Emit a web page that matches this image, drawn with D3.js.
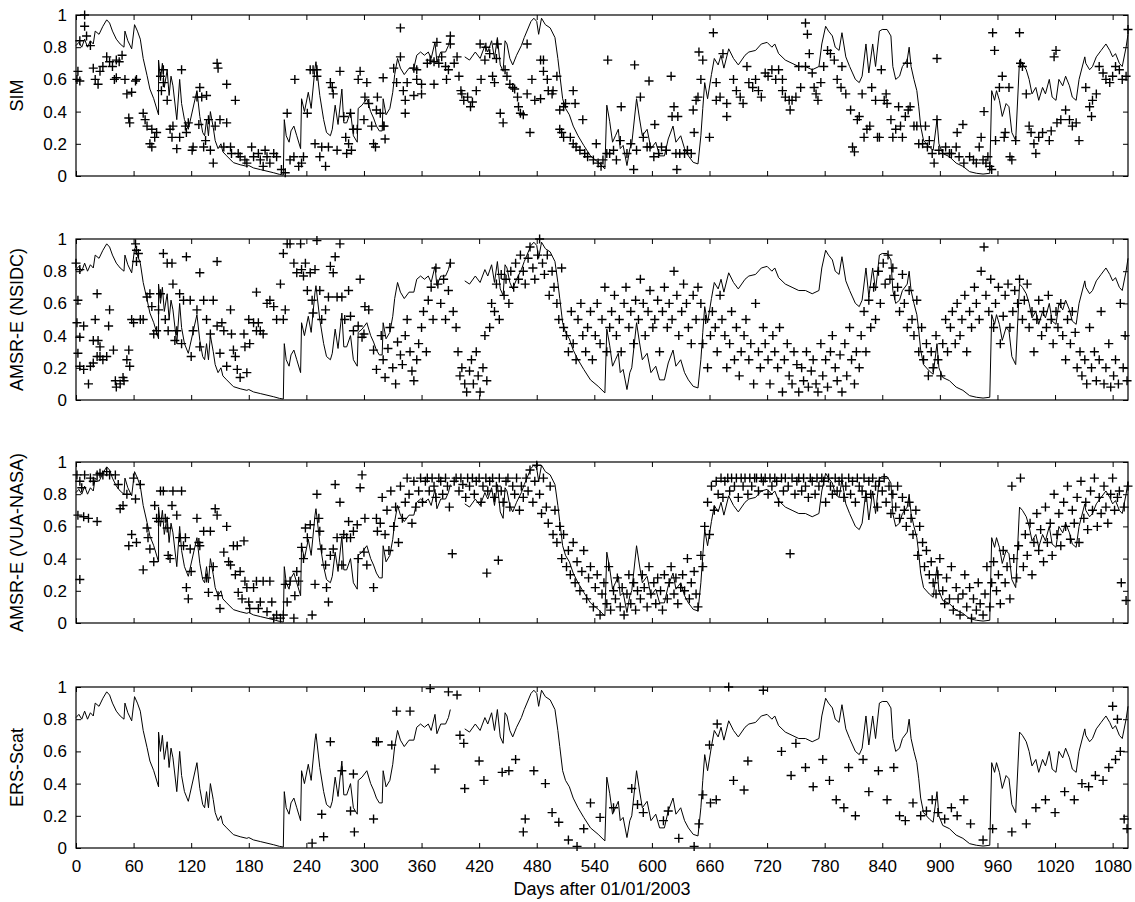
<!DOCTYPE html>
<html>
<head>
<meta charset="utf-8">
<title>Soil moisture 2003-2005</title>
<script src="https://cdn.jsdelivr.net/npm/d3@7"></script>
<style>
  body { margin: 0; background: #fff; }
  text { font-family: "Liberation Sans", Arial, sans-serif; fill: #000; }
</style>
</head>
<body>
<svg width="1135" height="902" id="mainsvg"></svg>
<script>
// in-situ reference curve (day, value), null = gap
const insitu = [[0,.81],[3,.83],[6,.80],[9,.85],[12,.80],[15,.84],[18,.82],[20,.90],[24,.88],[28,.93],[32,.97],[35,.95],[38,.90],[42,.85],[46,.82],[50,.80],[51,.90],[54,.84],[58,.79],[61,.94],[64,.90],[67,.85],[70,.73],[74,.625],[77,.54],[81,.48],[86,.38],[86,.72],[88,.60],[90,.70],[92,.55],[95,.66],[97,.50],[99,.62],[101,.56],[105,.35],[108,.60],[110,.45],[113,.35],[117,.29],[126,.53],[129,.37],[132,.27],[134,.25],[136,.35],[138,.25],[140,.40],[143,.30],[145,.22],[148,.17],[151,.20],[153,.15],[157,.125],[164,.083],[171,.07],[178,.06],[180,.065],[185,.05],[192,.04],[199,.03],[206,.02],[212,.01],[216,.006],[217,.35],[219,.25],[222,.21],[224,.28],[227,.31],[230,.25],[234,.17],[235,.48],[238,.40],[242,.52],[245,.42],[249,.67],[250,.71],[254,.50],[258,.35],[261,.27],[265,.25],[267,.29],[270,.44],[273,.32],[277,.54],[279,.33],[282,.33],[286,.40],[289,.25],[293,.21],[294,.42],[298,.44],[303,.48],[307,.40],[310,.36],[313,.31],[316,.28],[319,.28],[320,.48],[323,.38],[327,.42],[330,.52],[332,.63],[335,.73],[338,.67],[342,.63],[347,.67],[352,.67],[355,.75],[359,.77],[363,.75],[367,.77],[370,.73],[374,.83],[376,.71],[380,.77],[385,.77],[388,.81],[390,.86],[392,null],[405,.74],[410,.72],[416,.77],[421,.73],[426,.81],[429,.77],[433,.84],[436,.73],[439,.86],[442,.69],[445,.65],[447,.84],[449,.82],[452,.73],[455,.69],[459,.75],[464,.81],[467,.86],[474,.96],[477,.98],[480,.96],[482,.88],[485,.98],[489,.94],[494,.92],[499,.86],[502,.73],[504,.63],[507,.48],[510,.42],[514,.38],[518,.31],[523,.25],[529,.19],[536,.125],[544,.085],[551,.044],[553,.44],[556,.34],[559,.21],[562,.25],[565,.29],[567,.17],[570,.19],[574,.065],[577,.17],[579,.2],[584,.48],[587,.36],[590,.25],[595,.29],[599,.17],[604,.21],[608,.125],[613,.125],[617,.23],[622,.31],[625,.21],[630,.25],[634,.17],[638,.125],[643,.085],[648,.075],[651,.25],[653,.42],[655,.58],[658,.48],[662,.63],[665,.73],[669,.69],[672,.75],[675,.67],[680,.79],[685,.73],[690,.69],[697,.75],[701,.77],[708,.78],[714,.82],[720,.83],[725,.80],[728,.82],[732,.76],[739,.72],[746,.70],[753,.68],[760,.68],[767,.66],[774,.68],[777,.82],[781,.93],[784,.90],[788,.87],[791,.80],[795,.78],[798,.89],[802,.74],[806,.68],[809,.64],[812,.60],[816,.58],[819,.62],[823,.82],[826,.64],[830,.82],[833,.68],[837,.90],[840,.91],[845,.91],[849,.87],[851,.68],[854,.60],[858,.62],[861,.68],[866,.72],[868,.80],[870,.68],[873,.60],[876,.53],[878,.43],[880,.31],[883,.22],[889,.18],[893,.16],[897,.35],[899,.20],[903,.14],[910,.12],[917,.08],[924,.06],[931,.027],[938,.017],[945,.012],[952,.017],[954,.53],[957,.47],[959,.53],[962,.47],[965,.37],[969,.45],[972,.43],[975,.27],[979,.22],[983,.72],[986,.70],[990,.66],[993,.60],[996,.51],[1000,.55],[1003,.47],[1007,.55],[1010,.51],[1014,.60],[1017,.49],[1021,.47],[1024,.60],[1028,.56],[1031,.62],[1035,.56],[1038,.49],[1042,.47],[1045,.60],[1051,.74],[1052,.70],[1056,.66],[1059,.68],[1063,.74],[1068,.78],[1073,.82],[1077,.78],[1080,.74],[1083,.76],[1087,.70],[1090,.68],[1094,.80],[1096,.88]];

// SIM retrievals
const simObs = [[1,.6],[2,.65],[4,.84],[4,.59],[9,1.0],[9,.93],[11,.87],[15,.81],[18,.67],[20,.6],[23,.57],[25,.65],[28,.68],[32,.74],[35,.71],[38,.68],[40,.6],[42,.72],[42,.61],[45,.71],[48,.75],[51,.6],[53,.51],[55,.36],[56,.33],[58,.52],[62,.59],[63,.6],[70,.39],[72,.35],[74,.31],[77,.2],[79,.29],[79,.18],[82,.24],[84,.27],[88,.62],[89,.53],[91,.66],[91,.58],[95,.47],[98,.29],[100,.24],[101,.31],[105,.17],[108,.24],[110,.66],[114,.31],[115,.27],[117,.33],[121,.16],[122,.18],[126,.49],[128,.32],[129,.55],[131,.49],[133,.18],[135,.22],[136,.5],[138,.35],[140,.16],[143,.08],[145,.31],[147,.7],[148,.67],[150,.35],[154,.18],[157,.33],[157,.57],[161,.18],[162,.14],[166,.47],[169,.14],[171,.12],[176,.1],[178,.08],[183,.18],[185,.12],[190,.14],[192,.1],[195,.06],[197,.16],[199,.12],[202,.08],[206,.14],[209,.12],[214,.04],[218,.02],[220,.39],[223,.1],[227,.12],[228,.6],[232,.06],[235,.08],[237,.12],[241,.39],[244,.66],[247,.66],[249,.2],[251,.66],[251,.62],[254,.12],[256,.18],[260,.06],[263,.18],[265,.58],[267,.55],[268,.51],[272,.16],[275,.65],[279,.37],[281,.24],[282,.14],[284,.2],[286,.39],[287,.16],[289,.29],[293,.29],[294,.6],[296,.65],[300,.35],[301,.49],[303,.58],[305,.45],[308,.31],[310,.2],[312,.18],[313,.41],[314,.49],
[317,.39],[320,.31],[322,.23],[321,.31],[320,.61],[331,.67],[334,.58],[338,.74],[338,.92],[341,.53],[343,.47],[343,.39],[345,.58],[352,.5],[352,.67],[355,.66],[355,.6],[360,.57],[360,.51],[366,.7],[369,.72],[373,.71],[373,.57],[376,.83],[378,.7],[381,.74],[385,.68],[386,.6],[388,.66],[390,.82],[390,.87],[394,.7],[397,.74],[399,.62],[401,.53],[402,.51],[404,.47],[408,.49],[411,.43],[413,.46],[417,.53],[421,.82],[422,.6],[426,.72],[427,.8],[431,.76],[434,.62],[436,.58],[438,.73],[439,.82],[442,.39],[445,.33],[447,.66],[449,.62],[452,.57],[455,.55],[457,.54],[460,.49],[461,.43],[463,.39],[466,.38],[470,.82],[470,.51],[473,.27],[475,.6],[478,.47],[484,.48],[484,.72],[487,.72],[487,.65],[491,.6],[492,.53],[496,.51],[497,.53],[501,.62],[504,.41],[508,.43],[510,.45],[504,.29],[506,.27],[508,.24],[515,.24],[518,.2],[518,.53],[520,.45],[521,.18],[525,.16],[528,.35],[530,.14],[533,.12],[539,.1],[542,.2],[544,.08],[547,.06],[549,.1],[553,.14],[554,.72],[556,.14],[560,.16],[563,.1],[567,.22],[568,.43],[574,.14],[578,.2],[581,.04],[582,.69],[584,.16],[588,.49],[591,.24],[595,.18],[597,.59],[598,.18],[602,.12],[603,.32],[607,.14],[610,.18],[615,.16],[620,.62],[621,.37],[623,.43],[625,.14],[626,.04],[627,.37],[629,.14],[634,.14],[637,.16],[641,.14],[643,.41],[644,.27],[646,.47],[648,.49],[649,.77],[653,.72],[651,.6],[660,.24],[664,.89],[667,.58],[667,.47],[671,.49],[674,.76],[678,.45],[678,.37],[685,.6],[688,.53],[692,.49],[695,.45],[699,.68],[701,.58],[705,.55],[708,.6],
[711,.53],[714,.49],[718,.64],[721,.62],[725,.66],[729,.6],[732,.66],[736,.6],[736,.53],[739,.49],[743,.47],[746,.47],[744,.41],[750,.49],[753,.68],[755,.55],[760,.68],[760,.95],[762,.88],[764,.76],[767,.64],[769,.55],[771,.51],[773,.47],[776,.58],[779,.68],[783,.78],[786,.76],[790,.72],[793,.6],[797,.55],[798,.68],[802,.51],[807,.41],[809,.18],[811,.15],[814,.35],[816,.37],[819,.51],[821,.24],[824,.29],[827,.31],[829,.55],[833,.47],[835,.24],[837,.24],[839,.66],[842,.47],[844,.51],[845,.45],[849,.35],[851,.24],[854,.29],[857,.43],[859,.31],[861,.24],[864,.37],[866,.7],[867,.41],[869,.43],[873,.31],[876,.31],[878,.2],[882,.2],[885,.31],[887,.18],[889,.22],[892,.14],[894,.08],[897,.35],[897,.73],[899,.16],[903,.14],[906,.18],[910,.14],[912,.14],[917,.18],[918,.27],[920,.12],[924,.32],[925,.08],[931,.12],[935,.1],[938,.08],[941,.18],[943,.24],[945,.1],[946,.4],[948,.08],[950,.12],[952,.06],[954,.04],[957,.78],[955,.89],[958,.22],[962,.55],[965,.62],[967,.24],[968,.27],[972,.55],[973,.12],[975,.1],[979,.22],[983,.89],[984,.7],[986,.68],[990,.51],[993,.31],[995,.27],[998,.2],[1000,.14],[1003,.24],[1007,.27],[1014,.22],[1016,.28],[1019,.74],[1021,.78],[1022,.33],[1026,.35],[1031,.41],[1035,.35],[1038,.31],[1042,.33],[1045,.22],[1052,.55],[1056,.43],[1058,.37],[1059,.47],[1063,.51],[1066,.68],[1070,.64],[1073,.6],[1077,.58],[1080,.62],[1083,.68],[1087,.66],[1090,.6],[1094,.62],[1096,.91]];

// AMSR-E (NSIDC) retrievals
const nsidcObs = [[0,.85],[4,.81],[2,.62],[1,.48],[8,.46],[4,.39],[2,.29],[4,.21],[8,.19],[13,.1],[15,.21],[18,.23],[22,.66],[20,.5],[18,.37],[23,.37],[25,.33],[22,.27],[25,.27],[28,.25],[32,.27],[34,.46],[35,.56],[39,.31],[41,.12],[42,.08],[46,.1],[49,.14],[50,.12],[53,.25],[55,.31],[56,.21],[58,.5],[60,.48],[62,.97],[63,.93],[63,.86],[65,.91],[67,.5],[70,.5],[74,.64],[77,.66],[79,.58],[81,.41],[84,.43],[86,.56],[88,.66],[91,.91],[93,.5],[95,.85],[96,.43],[100,.85],[101,.72],[103,.37],[105,.43],[108,.66],[110,.35],[112,.62],[115,.89],[119,.62],[120,.27],[122,.43],[126,.56],[129,.79],[129,.33],[133,.62],[136,.5],[140,.41],[143,.62],[147,.86],[147,.46],[150,.29],[152,.48],[154,.43],[157,.21],[161,.56],[162,.41],[164,.31],[166,.27],[168,.19],[171,.14],[175,.41],[176,.33],[178,.17],[180,.5],[181,.35],[185,.48],[188,.43],[190,.48],[192,.43],[195,.41],[188,.67],[199,.6],[202,.62],[206,.58],[209,.5],[213,.72],[216,.5],[218,.56],[216,.91],[220,.97],[223,.97],[227,.85],[230,.79],[234,.97],[235,.81],[237,.77],[239,.85],[241,.68],[244,.79],[246,.62],[247,.54],[249,.81],[251,.99],[254,.68],[256,.5],[260,.56],[263,.64],[265,.83],[268,.79],[270,.89],[272,.64],[275,.97],[277,.64],[280,.5],[284,.68],[286,.52],[289,.43],[294,.46],[296,.75],[298,.39],[300,.41],[301,.58],[305,.56],[310,.31],[313,.19],
[318,.40],[320,.25],[322,.14],[325,.32],[327,.45],[330,.2],[333,.1],[335,.36],[338,.28],[340,.22],[343,.4],[345,.5],[348,.3],[350,.18],[352,.12],[355,.25],[357,.35],[360,.45],[362,.55],[365,.3],[367,.62],[370,.7],[372,.5],[375,.82],[377,.72],[380,.6],[383,.75],[385,.5],[388,.68],[390,.85],[393,.55],[396,.45],[398,.3],[400,.15],[402,.2],[405,.1],[407,.05],[410,.18],[412,.25],[414,.1],[417,.3],[419,.15],[421,.05],[424,.2],[426,.4],[428,.12],[431,.45],[433,.6],[436,.55],[438,.72],[441,.5],[443,.78],[446,.65],[448,.75],[451,.6],[453,.8],[456,.7],[458,.85],[461,.75],[463,.9],[466,.8],[468,.72],[471,.88],[473,.95],[476,.82],[478,.75],[481,.9],[483,1.0],[486,.85],[488,.78],[491,.9],[493,.65],[496,.8],[498,.7],[501,.6],[503,.5],[506,.82],[508,.45],[511,.4],[513,.3],[516,.55],[518,.35],[521,.25],[523,.5],[526,.6],[528,.4],[531,.3],[533,.45],[536,.55],[538,.25],[541,.4],[543,.6],[546,.35],[548,.5],[551,.7],[553,.3],[556,.45],[558,.55],[561,.65],[563,.4],[566,.5],[568,.3],[571,.6],[573,.7],[576,.45],[578,.55],[581,.35],[583,.62],[586,.5],[588,.75],[591,.6],[593,.4],[596,.55],[598,.68],[601,.45],[603,.5],[606,.62],[608,.3],[611,.55],[613,.7],[616,.45],[618,.6],[621,.5],[623,.8],[626,.65],[628,.4],[631,.55],[633,.72],[636,.6],[638,.45],[641,.35],[643,.65],[646,.5],[648,.7],[651,.6],[653,.35],[656,.5],[658,.2],[661,.4],[663,.55],[666,.45],[668,.3],[671,.65],[673,.5],[676,.4],[678,.2],[681,.35],[683,.55],[686,.25],[688,.45],[691,.15],[693,.3],[696,.4],[698,.5],[701,.25],[703,.35],[706,.1],[708,.6],[711,.3],[713,.2],[716,.45],[718,.35],[721,.25],[723,.1],[726,.4],[728,.3],[731,.2],[733,.45],[736,.05],[738,.25],[741,.35],[743,.15],[746,.1],[748,.3],[751,.22],[753,.05],[756,.2],[758,.12],[761,.3],[763,.08],[766,.18],[768,.25],[771,.1],[773,.05],[776,.35],[778,.15],[781,.25],[783,.08],[786,.3],[788,.4],[791,.2],[793,.12],[796,.28],[798,.05],[801,.35],[803,.15],[806,.45],[808,.25],[811,.1],[813,.3],[816,.2],[818,.4],[821,.55],[823,.3],[826,.62],[828,.45],[831,.7],[833,.5],[836,.8],[838,.6],[841,.85],[843,.72],[846,.9],[848,.75],[851,.82],[853,.65],[856,.7],[858,.55],[861,.78],[863,.6],[866,.45],[868,.68],[871,.5],[873,.4],[876,.62],[878,.3],[881,.45],[883,.25],[886,.35],[888,.15],[891,.3],[893,.2],[896,.4],[898,.25],[901,.15],[903,.35],[906,.5],[908,.3],[911,.45],[913,.55],[916,.35],[918,.6],[921,.4],[923,.5],[926,.65],[928,.3],[931,.55],[933,.45],[936,.7],[938,.6],[941,.5],[943,.8],[946,.95],[948,.65],[951,.55],[953,.75],[956,.45],[958,.6],[961,.7],[963,.35],[966,.52],[968,.65],[971,.72],[973,.45],[976,.55],[978,.68],[981,.6],[983,.75],[986,.5],[988,.62],[991,.72],[993,.45],[996,.55],[998,.3],[1001,.5],[1003,.62],[1006,.4],[1008,.55],[1011,.45],[1013,.65],[1016,.5],[1018,.35],[1021,.55],[1023,.45],[1026,.6],[1028,.4],[1031,.25],[1033,.5],[1036,.35],[1038,.55],[1041,.42],[1043,.2],[1046,.3],[1048,.15],[1051,.25],[1053,.1],[1056,.45],[1058,.2],[1061,.3],[1063,.12],[1066,.25],[1068,.55],[1071,.1],[1073,.2],[1076,.35],[1078,.08],[1081,.15],[1083,.25],[1086,.1],[1088,.6],[1091,.2],[1093,.4],[1095,.12]];

// AMSR-E (VUA-NASA) retrievals
const vuaObs = [[1,.92],[4,.88],[6,.84],[2,.67],[4,.27],[8,.66],[13,.65],[22,.63],[9,.92],[15,.9],[18,.88],[22,.92],[25,.93],[28,.92],[32,.94],[35,.92],[41,.92],[44,.86],[46,.71],[49,.73],[53,.8],[55,.48],[58,.55],[60,.9],[62,.77],[63,.5],[67,.86],[70,.33],[74,.59],[75,.53],[77,.46],[81,.38],[82,.73],[84,.65],[86,.63],[88,.82],[91,.82],[93,.65],[95,.59],[96,.42],[98,.4],[100,.73],[101,.82],[105,.67],[108,.53],[110,.82],[112,.48],[114,.53],[115,.22],[117,.15],[119,.46],[120,.32],[126,.65],[128,.5],[129,.48],[133,.57],[136,.28],[138,.19],[140,.57],[143,.35],[145,.71],[147,.67],[148,.17],[150,.09],[154,.44],[157,.6],[159,.38],[161,.36],[164,.48],[166,.3],[168,.48],[169,.19],[171,.32],[173,.15],[175,.51],[176,.26],[178,.22],[180,.13],[181,.09],[185,.22],[188,.26],[190,.09],[192,.13],[195,.26],[199,.07],[202,.26],[204,.13],[206,.03],[209,.05],[213,.03],[216,.05],[218,.24],[220,.13],[223,.26],[227,.03],[228,.17],[230,.32],[232,.26],[235,.47],[237,.4],[239,.59],[241,.53],[244,.61],[246,.05],[249,.24],[251,.8],[253,.65],[254,.57],[256,.46],[260,.36],[261,.22],[263,.13],[265,.42],[268,.46],[270,.86],[272,.53],[275,.75],[277,.36],[279,.55],[282,.53],[284,.63],[286,.53],[289,.57],[293,.61],[294,.4],[296,.84],[298,.92],[300,.44],[301,.65],[303,.36],[310,.22],[313,.65],[314,.57],
[317,.62],[319,.78],[322,.55],[324,.7],[326,.45],[328,.82],[331,.6],[333,.72],[336,.5],[338,.85],[340,.65],[343,.75],[345,.9],[347,.8],[350,.62],[352,.88],[354,.72],[357,.82],[359,.9],[361,.75],[364,.88],[366,.9],[368,.82],[371,.9],[373,.85],[375,.78],[378,.9],[380,.88],[382,.8],[385,.9],[387,.85],[389,.72],[392,.43],[394,.88],[396,.9],[399,.82],[401,.9],[403,.86],[406,.78],[408,.9],[410,.85],[413,.9],[415,.8],[417,.88],[420,.9],[422,.75],[424,.85],[427,.9],[428,.31],[429,.82],[431,.88],[434,.9],[436,.78],[438,.85],[440,.39],[441,.9],[443,.82],[445,.75],[448,.88],[450,.9],[452,.72],[455,.85],[457,.8],[459,.9],[462,.7],[464,.85],[466,.78],[469,.9],[471,.82],[473,.95],[476,.75],[478,.88],[480,.98],[483,.8],[485,.68],[487,.9],[490,.72],[492,.62],[494,.85],[497,.55],[499,.7],[501,.5],[504,.6],[506,.4],[508,.55],[511,.35],[513,.45],[515,.3],[518,.5],[520,.25],[522,.38],[525,.2],[527,.32],[529,.45],[532,.15],[534,.28],[536,.35],[539,.1],[541,.22],[543,.3],[546,.05],[548,.18],[550,.25],[553,.12],[555,.35],[557,.08],[560,.2],[562,.15],[564,.28],[567,.1],[569,.22],[571,.05],[574,.18],[576,.3],[578,.12],[581,.25],[583,.08],[585,.2],[588,.15],[590,.3],[592,.22],[595,.1],[597,.35],[599,.18],[602,.25],[604,.12],[606,.28],[609,.2],[611,.08],[613,.3],[616,.15],[618,.25],[620,.35],[623,.18],[625,.28],[627,.12],[630,.22],[632,.3],[634,.2],[637,.4],[639,.15],[641,.25],[644,.32],[646,.18],[648,.1],[651,.42],[653,.35],[655,.6],[658,.75],[660,.55],[662,.85],[665,.7],[667,.88],[669,.8],[672,.9],[674,.78],[676,.88],[679,.9],[681,.82],[683,.9],[686,.85],[688,.9],[690,.78],[693,.9],[695,.85],[697,.9],[700,.8],[702,.9],[704,.85],[707,.9],[709,.9],[711,.82],[714,.9],[716,.88],[718,.9],[721,.8],[723,.9],[725,.85],[728,.9],[730,.88],[732,.75],[735,.9],[737,.82],[739,.9],[742,.85],[744,.43],[746,.9],[749,.8],[751,.88],[753,.9],[756,.82],[758,.9],[760,.85],[763,.78],[765,.9],[767,.88],[770,.8],[772,.9],[774,.85],[777,.9],[779,.88],[781,.75],[784,.9],[786,.85],[788,.8],[791,.9],[793,.82],[795,.88],[798,.9],[800,.78],[802,.85],[805,.9],[807,.8],[809,.88],[812,.75],[814,.9],[816,.85],[819,.82],[821,.9],[823,.78],[826,.88],[828,.8],[830,.9],[833,.85],[835,.72],[837,.88],[840,.82],[842,.9],[844,.75],[847,.85],[849,.68],[851,.8],[854,.72],[856,.85],[858,.65],[861,.78],[863,.7],[865,.6],[868,.75],[870,.65],[872,.55],[875,.7],[877,.42],[879,.6],[882,.5],[884,.35],[886,.45],[889,.3],[891,.38],[893,.25],[896,.18],[898,.3],[900,.4],[903,.2],[905,.12],[907,.28],[910,.15],[912,.35],[914,.08],[917,.22],[919,.15],[921,.05],[924,.18],[926,.3],[928,.1],[931,.22],[933,.03],[935,.15],[938,.08],[940,.25],[942,.12],[945,.05],[947,.18],[949,.35],[952,.1],[954,.25],[956,.38],[959,.2],[961,.3],[963,.12],[966,.45],[968,.25],[970,.35],[973,.15],[975,.85],[977,.4],[980,.28],[982,.48],[984,.9],[987,.35],[989,.55],[991,.42],[994,.62],[996,.3],[998,.5],[1001,.68],[1003,.45],[1005,.58],[1008,.38],[1010,.72],[1012,.5],[1015,.62],[1017,.42],[1019,.8],[1022,.55],[1024,.68],[1026,.48],[1029,.75],[1031,.6],[1033,.85],[1036,.52],[1038,.7],[1040,.62],[1043,.78],[1045,.5],[1047,.88],[1050,.65],[1052,.75],[1054,.58],[1057,.82],[1059,.7],[1061,.9],[1064,.6],[1066,.78],[1068,.68],[1071,.85],[1073,.72],[1075,.62],[1078,.8],[1080,.9],[1082,.7],[1085,.78],[1087,.82],[1089,.25],[1092,.72],[1094,.14],[1096,.85]];

// ERS scatterometer retrievals
const ersObs = [[246,.03],[256,.21],[258,.07],[265,.66],[277,.48],[286,.23],[289,.46],[290,.1],[310,.18],[313,.66],[315,.66],[329,.64],[334,.85],[348,.85],[369,.99],[374,.49],[388,.97],[397,.95],[400,.7],[404,.65],[405,.37],[420,.54],[425,.42],[444,.47],[451,.48],[458,.55],[466,.1],[468,.18],[477,.48],[489,.4],[496,.22],[503,.16],[513,.05],[522,.01],[529,.12],[536,.28],[546,.19],[560,.25],[579,.37],[585,.27],[591,.22],[612,.17],[617,.23],[628,.06],[644,.01],[649,.15],[653,.33],[660,.64],[661,.28],[667,.3],[668,.77],[680,1.0],[685,.42],[696,.36],[700,.54],[716,.98],[735,.6],[745,.45],[750,.65],[760,.5],[768,.38],[778,.55],[785,.42],[792,.3],[800,.25],[805,.5],[812,.2],[820,.55],[826,.35],[836,.48],[845,.3],[852,.5],[858,.2],[864,.17],[872,.28],[880,.2],[886,.23],[892,.3],[898,.22],[905,.18],[912,.25],[918,.2],[925,.3],[932,.15],[945,.05],[955,.12],[975,.1],[990,.15],[1000,.25],[1010,.3],[1020,.22],[1030,.35],[1040,.3],[1048,.4],[1055,.38],[1062,.45],[1070,.42],[1076,.5],[1080,.88],[1083,.55],[1085,.8],[1088,.6],[1092,.18],[1095,.12]];

const panelNames = ['SIM', 'AMSR-E (NSIDC)', 'AMSR-E (VUA-NASA)', 'ERS-Scat'];
const panelObs = [simObs, nsidcObs, vuaObs, ersObs];
const xTicks = d3.range(0, 1081, 60);
const yTicks = [0, 0.2, 0.4, 0.6, 0.8, 1];

const svg = d3.select('#mainsvg');
const left = 76, right = 1128;
const panelTop = [15, 239, 462, 687];
const panelH = 161;

const x = d3.scaleLinear().domain([0, 1096]).range([left, right]);
const fmt = d => String(+d.toFixed(1));

panelNames.forEach((name, i) => {
    const top = panelTop[i], bottom = top + panelH;
    const y = d3.scaleLinear().domain([0, 1]).range([bottom, top]);
    const g = svg.append('g').attr('class', 'panel');

    // in-situ curve
    g.append('path')
        .datum(insitu)
        .attr('fill', 'none')
        .attr('stroke', '#000')
        .attr('stroke-width', 1)
        .attr('d', d3.line().defined(d => d[1] != null).x(d => x(d[0])).y(d => y(d[1])));

    // retrieval markers
    g.append('g').selectAll('path').data(panelObs[i]).join('path')
        .attr('d', 'M-4.5,0H4.5M0,-4.5V4.5')
        .attr('transform', d => `translate(${x(d[0])},${y(d[1])})`)
        .attr('stroke', '#000')
        .attr('stroke-width', 1.4)
        .attr('fill', 'none');

    // axes, ticks pointing inwards
    g.append('g').attr('transform', `translate(0,${bottom})`)
        .call(d3.axisBottom(x).tickValues(xTicks).tickSize(-5).tickPadding(12)
            .tickFormat(i === 3 ? d3.format('d') : ''));
    g.append('g').attr('transform', `translate(0,${top})`)
        .call(d3.axisTop(x).tickValues(xTicks).tickSize(-5).tickFormat(''));
    g.append('g').attr('transform', `translate(${left},0)`)
        .call(d3.axisLeft(y).tickValues(yTicks).tickSize(-5).tickPadding(9).tickFormat(fmt));
    g.append('g').attr('transform', `translate(${right},0)`)
        .call(d3.axisRight(y).tickValues(yTicks).tickSize(-5).tickFormat(''));
    g.selectAll('.domain').remove();
    g.selectAll('.tick line').attr('stroke', '#000');
    g.selectAll('.tick text').attr('font-size', 17).attr('font-family', null);

    g.append('rect')
        .attr('x', left).attr('y', top)
        .attr('width', right - left).attr('height', panelH)
        .attr('fill', 'none').attr('stroke', '#000').attr('stroke-width', 1.2);

    g.append('text')
        .attr('transform', `translate(23,${(top + bottom) / 2}) rotate(-90)`)
        .attr('text-anchor', 'middle')
        .attr('font-size', 18)
        .text(name);
});

svg.append('text')
    .attr('x', (left + right) / 2)
    .attr('y', 895)
    .attr('text-anchor', 'middle')
    .attr('font-size', 18)
    .text('Days after 01/01/2003');
</script>
</body>
</html>
